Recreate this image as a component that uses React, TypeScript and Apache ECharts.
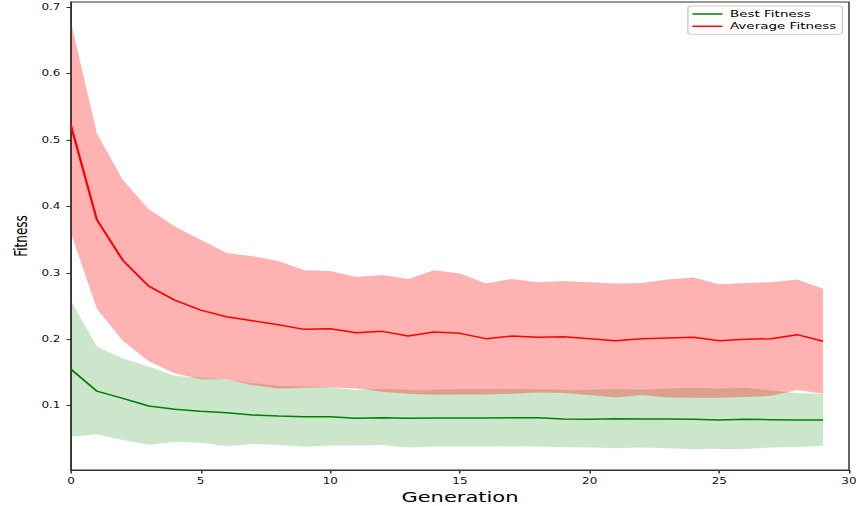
import React, { useEffect, useRef } from "react";
import * as echarts from "echarts";

const generations = [0, 1, 2, 3, 4, 5, 6, 7, 8, 9, 10, 11, 12, 13, 14, 15, 16, 17, 18, 19, 20, 21, 22, 23, 24, 25, 26, 27, 28, 29];

const bestFitness = [0.155, 0.122, 0.111, 0.0995, 0.0946, 0.0916, 0.0895, 0.086, 0.0845, 0.0834, 0.0834, 0.081, 0.082, 0.081, 0.0815, 0.0815, 0.0815, 0.082, 0.082, 0.080, 0.0795, 0.0805, 0.080, 0.080, 0.0795, 0.0785, 0.0795, 0.079, 0.0785, 0.0785];
const bestUpper = [0.258, 0.189, 0.171, 0.159, 0.145, 0.142, 0.139, 0.134, 0.130, 0.129, 0.128, 0.1236, 0.125, 0.124, 0.124, 0.125, 0.125, 0.125, 0.1247, 0.124, 0.124, 0.125, 0.124, 0.126, 0.127, 0.126, 0.127, 0.123, 0.119, 0.1176];
const bestLower = [0.0533, 0.057, 0.0484, 0.0413, 0.0458, 0.0443, 0.0393, 0.0423, 0.041, 0.0383, 0.040, 0.040, 0.041, 0.037, 0.0385, 0.0385, 0.0385, 0.039, 0.0385, 0.0375, 0.037, 0.0358, 0.037, 0.0358, 0.0343, 0.035, 0.035, 0.037, 0.038, 0.0393];

const avgFitness = [0.522, 0.380, 0.319, 0.280, 0.259, 0.244, 0.234, 0.228, 0.222, 0.215, 0.216, 0.210, 0.212, 0.205, 0.211, 0.209, 0.201, 0.205, 0.203, 0.204, 0.201, 0.198, 0.201, 0.202, 0.203, 0.198, 0.200, 0.201, 0.207, 0.197];
const avgUpper = [0.678, 0.510, 0.440, 0.396, 0.370, 0.350, 0.330, 0.325, 0.318, 0.304, 0.303, 0.294, 0.297, 0.291, 0.304, 0.299, 0.284, 0.291, 0.286, 0.288, 0.286, 0.284, 0.285, 0.290, 0.293, 0.283, 0.285, 0.286, 0.290, 0.276];
const avgLower = [0.360, 0.246, 0.198, 0.167, 0.149, 0.140, 0.140, 0.131, 0.126, 0.127, 0.128, 0.126, 0.121, 0.118, 0.1165, 0.117, 0.117, 0.118, 0.120, 0.119, 0.116, 0.1125, 0.116, 0.1125, 0.112, 0.112, 0.113, 0.115, 0.1235, 0.118];

const yTicks = [0.1, 0.2, 0.3, 0.4, 0.5, 0.6, 0.7];

const SCALE_X = 1.5;
const FULL_W = 856;
const FULL_H = 506;
const FONT = "DejaVu Sans";

function pairs(ys: number[]) {
  return generations.map((g, i) => [g, ys[i]]);
}
function bandRows(lo: number[], up: number[]) {
  return generations.map((g, i) => [g, lo[i], up[i]]);
}

function bandSeries(name: string, lo: number[], up: number[], fill: string) {
  return {
    type: "custom",
    name,
    silent: true,
    data: bandRows(lo, up),
    encode: { x: 0, y: [1, 2] },
    renderItem: (params: any, api: any) => {
      if (params.dataIndex !== 0) return null;
      const upperPts = generations.map((g, i) => api.coord([g, up[i]]));
      const lowerPts = generations.map((g, i) => api.coord([g, lo[i]])).reverse();
      return {
        type: "polygon",
        shape: { points: upperPts.concat(lowerPts) },
        style: { fill, stroke: "none" },
      };
    },
  };
}

export default function App() {
  const ref = useRef<HTMLDivElement>(null);
  useEffect(() => {
    if (!ref.current) return;
    const chart = echarts.init(ref.current, null, { renderer: "svg" });
    chart.setOption({
      animation: false,
      backgroundColor: "#ffffff",
      grid: {
        left: 47.3,
        right: 5,
        top: 2,
        bottom: 36,
        show: true,
        borderColor: "#333333",
        borderWidth: 1,
        backgroundColor: "transparent",
        outerBoundsMode: "none",
        containLabel: false,
      },
      legend: {
        orient: "vertical",
        right: 9.4,
        top: 6,
        data: ["Best Fitness", "Average Fitness"],
        icon: "rect",
        itemWidth: 20,
        itemHeight: 1.5,
        itemGap: 2.3,
        padding: [3, 4, 3, 3],
        backgroundColor: "rgba(255,255,255,0.8)",
        borderColor: "#cccccc",
        borderWidth: 1,
        borderRadius: 2,
        textStyle: { fontFamily: FONT, fontSize: 9, lineHeight: 10, color: "#000000" },
      },
      xAxis: {
        type: "value",
        min: 0,
        max: 30,
        interval: 5,
        name: "Generation",
        nameLocation: "middle",
        nameGap: 20,
        nameMoveOverlap: false,
        nameTextStyle: { fontFamily: FONT, fontSize: 14, color: "#000000" },
        axisLine: { show: true, lineStyle: { color: "#333333", width: 1 } },
        axisTick: { show: true, length: 3.5, lineStyle: { color: "#333333" } },
        axisLabel: { fontFamily: FONT, fontSize: 8, color: "#111111", margin: 7 },
        splitLine: { show: false },
      },
      yAxis: {
        type: "value",
        min: 0.0032,
        max: 0.708,
        name: "Fitness",
        nameLocation: "middle",
        nameGap: 27,
        nameMoveOverlap: false,
        nameTextStyle: { fontFamily: FONT, fontSize: 12, color: "#000000" },
        axisLine: { show: true, lineStyle: { color: "#333333", width: 1 } },
        axisTick: { show: true, length: 3, customValues: yTicks, lineStyle: { color: "#333333" } },
        axisLabel: {
          fontFamily: FONT,
          fontSize: 8,
          color: "#111111",
          margin: 7,
          customValues: yTicks,
          formatter: (v: number) => v.toFixed(1),
        },
        splitLine: { show: false },
      },
      series: [
        bandSeries("bestBand", bestLower, bestUpper, "rgba(0,128,0,0.2)"),
        bandSeries("avgBand", avgLower, avgUpper, "rgba(255,0,0,0.3)"),
        {
          type: "line",
          name: "Best Fitness",
          symbol: "none",
          showSymbol: false,
          data: pairs(bestFitness),
          color: "#008000",
          lineStyle: { color: "#008000", width: 1.5 },
        },
        {
          type: "line",
          name: "Average Fitness",
          symbol: "none",
          showSymbol: false,
          data: pairs(avgFitness),
          color: "#ff0000",
          lineStyle: { color: "#ff0000", width: 1.5 },
        },
      ],
    });
    return () => chart.dispose();
  }, []);

  return (
    <div
      style={{
        position: "absolute",
        left: 0,
        top: 0,
        width: FULL_W,
        height: FULL_H,
        overflow: "hidden",
        background: "#ffffff",
      }}
    >
      <div
        ref={ref}
        style={{
          width: FULL_W / SCALE_X,
          height: FULL_H,
          transform: `scaleX(${SCALE_X})`,
          transformOrigin: "0 0",
        }}
      />
    </div>
  );
}
